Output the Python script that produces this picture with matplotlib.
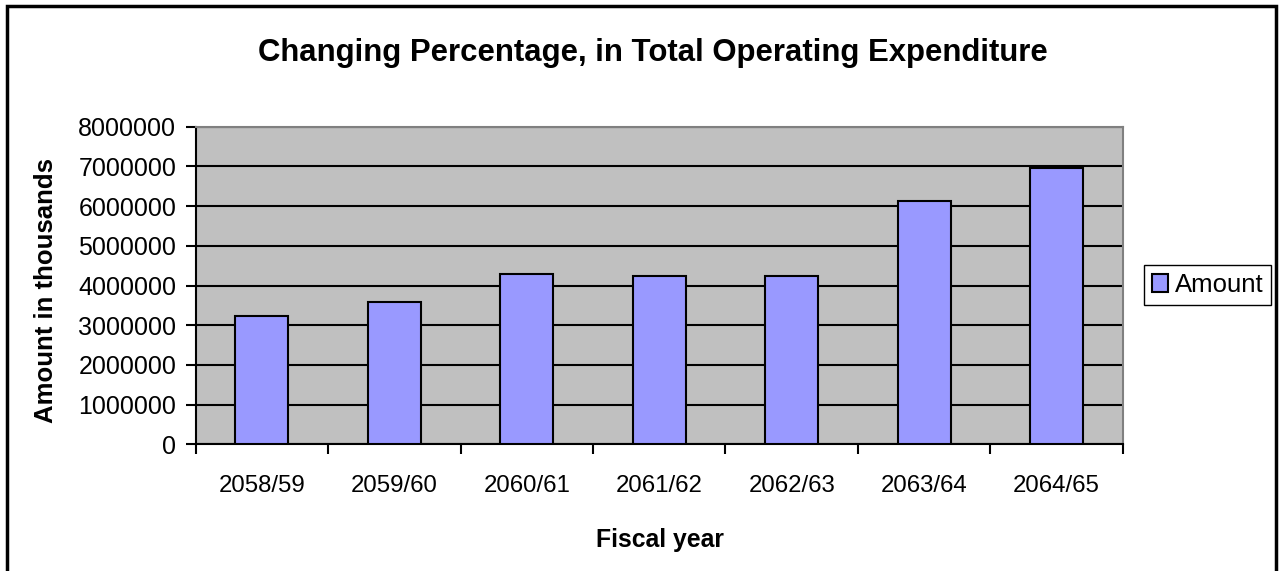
import matplotlib.pyplot as plt
from matplotlib.patches import Rectangle
from matplotlib.ticker import FixedLocator

plt.rcParams['font.family'] = ['Liberation Sans', 'DejaVu Sans']

years = ['2058/59', '2059/60', '2060/61', '2061/62', '2062/63', '2063/64', '2064/65']
amounts = [3230000, 3580000, 4290000, 4240000, 4240000, 6140000, 6970000]

fig = plt.figure(figsize=(12.82, 5.71), dpi=100)
ax = fig.add_axes([0.1527, 0.2219, 0.7231, 0.5562])

x = range(len(years))
ax.bar(x, amounts, width=0.4, color='#9999FF', edgecolor='black',
       linewidth=1.5, label='Amount', zorder=3)

ax.set_facecolor('#C0C0C0')
ax.set_xlim(-0.5, len(years) - 0.5)
ax.set_ylim(0, 8000000)
ax.set_yticks(range(0, 8000001, 1000000))
ax.ticklabel_format(axis='y', style='plain', useOffset=False)
ax.yaxis.grid(True, color='black', linewidth=1.5, zorder=1)
ax.set_axisbelow(True)

# category labels centred, tick marks between categories
ax.set_xticks(list(x))
ax.set_xticklabels(years, fontsize=17.3)
ax.tick_params(axis='x', which='major', length=0, pad=22)
ax.xaxis.set_minor_locator(FixedLocator([i - 0.5 for i in range(len(years) + 1)]))
ax.tick_params(axis='x', which='minor', length=7, width=1.5, direction='out')
ax.tick_params(axis='y', length=7, width=1.5, labelsize=18, pad=7)

for s in ['top', 'right']:
    ax.spines[s].set_color('#808080')
    ax.spines[s].set_linewidth(1.5)
for s in ['left', 'bottom']:
    ax.spines[s].set_color('black')
    ax.spines[s].set_linewidth(1.5)

ax.set_xlabel('Fiscal year', fontsize=17.8, fontweight='bold')
ax.xaxis.set_label_coords(0.501, -0.262)
ax.set_ylabel('Amount in thousands', fontsize=18.5, fontweight='bold')
ax.yaxis.set_label_coords(-0.1485, 0.483)

fig.text(0.509, 0.907, 'Changing Percentage, in Total Operating Expenditure',
         ha='center', va='center', fontsize=22.4, fontweight='bold')

fig.legend(loc='center left', bbox_to_anchor=(1144 / 1282, 1 - 285 / 571),
           fontsize=18.5, frameon=True, fancybox=False, edgecolor='black',
           framealpha=1, handlelength=0.65, handleheight=0.65, handletextpad=0.25,
           borderpad=0.3, borderaxespad=0)

# outer chart border
fig.patches.append(Rectangle((7 / 1282, -0.05), (1276 - 7) / 1282, 1.05 - 6 / 571,
                             transform=fig.transFigure, fill=False,
                             edgecolor='black', linewidth=2.5))

fig.savefig('out.png', dpi=100)
